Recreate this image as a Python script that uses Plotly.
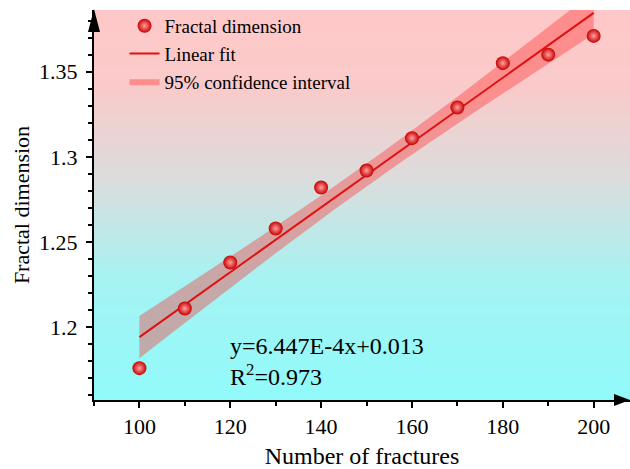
import numpy as np
import plotly.graph_objects as go

# ---------------- data ----------------
x_fractures = [100, 110, 120, 130, 140, 150, 160, 170, 180, 190, 200]
fractal_dim = [1.176, 1.211, 1.238, 1.258, 1.282, 1.292, 1.311, 1.329, 1.355, 1.360, 1.371]
x_ticks = [100, 120, 140, 160, 180, 200]
y_ticks = [1.2, 1.25, 1.3, 1.35]
y_tick_labels = ["1.2", "1.25", "1.3", "1.35"]
equation_text = "y=6.447E-4x+0.013"
r2_text = "R<sup>2</sup>=0.973"

# ---------------- linear fit + 95% CI ----------------
xa = np.array(x_fractures, dtype=float)
ya = np.array(fractal_dim, dtype=float)
slope, intercept = np.polyfit(xa, ya, 1)
n = len(xa)
resid = ya - (slope * xa + intercept)
s = np.sqrt(np.sum(resid ** 2) / (n - 2))
t_crit = 2.262  # t(0.975, df=9)
xs = np.linspace(xa.min(), xa.max(), 101)
yfit = slope * xs + intercept
se = s * np.sqrt(1.0 / n + (xs - xa.mean()) ** 2 / np.sum((xa - xa.mean()) ** 2))
upper = yfit + t_crit * se
lower = yfit - t_crit * se

FONT = "Liberation Serif"

fig = go.Figure()

# confidence band
fig.add_trace(go.Scatter(
    x=list(xs) + list(xs[::-1]), y=list(upper) + list(lower[::-1]),
    fill="toself", fillcolor="rgba(255,45,45,0.38)", line=dict(width=0),
    mode="lines", name="95% confidence interval", legendrank=3, hoverinfo="skip"))

# fit line
fig.add_trace(go.Scatter(
    x=xs, y=yfit, mode="lines", line=dict(color="#e01010", width=2),
    name="Linear fit", legendrank=2))

# data points
fig.add_trace(go.Scatter(
    x=x_fractures, y=fractal_dim, mode="markers",
    marker=dict(size=14, color="#c80000",
                gradient=dict(type="radial", color="#ffa0a0"),
                line=dict(width=0)),
    name="Fractal dimension", legendrank=1))

# background gradient strips (decoration, paper coords)
stops = [(0.0, (145, 250, 250)), (0.30, (165, 243, 243)), (0.57, (220, 220, 220)),
         (0.80, (250, 202, 202)), (1.0, (255, 200, 200))]


def col_at(f):
    for (f0, c0), (f1, c1) in zip(stops[:-1], stops[1:]):
        if f0 <= f <= f1:
            t = (f - f0) / (f1 - f0)
            return "rgb(%d,%d,%d)" % tuple(round(a + (b - a) * t) for a, b in zip(c0, c1))
    return "rgb(%d,%d,%d)" % stops[-1][1]


N = 160
shapes = []
for i in range(N):
    y0 = i / N
    y1 = min(1.0, (i + 1) / N + 0.003)
    shapes.append(dict(type="rect", xref="paper", yref="paper", x0=0, x1=1, y0=y0, y1=y1,
                       fillcolor=col_at((i + 0.5) / N), line=dict(width=0), layer="below"))

# axis arrows
shapes.append(dict(type="path", xref="paper", yref="paper", xsizemode="pixel", ysizemode="pixel",
                   xanchor=0, yanchor=1, path="M -6,-22 L 6,-22 L 0,1 Z",
                   fillcolor="black", line=dict(width=0)))
shapes.append(dict(type="path", xref="paper", yref="paper", xsizemode="pixel", ysizemode="pixel",
                   xanchor=1, yanchor=0, path="M -16,6 L -16,-6 L 0,0 Z",
                   fillcolor="black", line=dict(width=0)))

fig.update_layout(
    width=630, height=469,
    margin=dict(l=94, r=0, t=10, b=69),
    paper_bgcolor="white", plot_bgcolor="white",
    font=dict(family=FONT, color="black"),
    shapes=shapes,
    showlegend=True,
    legend=dict(x=0.057, y=1.008, xanchor="left", yanchor="top", bgcolor="rgba(0,0,0,0)",
                font=dict(size=19, family=FONT), tracegroupgap=0, itemsizing="trace"),
    annotations=[dict(xref="paper", yref="paper", x=0.25, y=0.099, xanchor="left", yanchor="middle",
                      text=equation_text + "<br>" + r2_text, showarrow=False, align="left",
                      font=dict(size=24, family=FONT, color="black"))],
)

fig.update_xaxes(
    range=[90, 208], tickvals=x_ticks, showgrid=False, zeroline=False,
    showline=True, linecolor="black", linewidth=2,
    ticks="outside", ticklen=6, tickwidth=1.5, tickcolor="black",
    minor=dict(dtick=10, tick0=100, ticks="outside", ticklen=4, tickwidth=1.5, tickcolor="black"),
    tickfont=dict(size=22, family=FONT),
    title=dict(text="Number of fractures", font=dict(size=24, family=FONT), standoff=12),
)
fig.update_yaxes(
    range=[1.1573, 1.3862], tickvals=y_ticks, ticktext=y_tick_labels, showgrid=False, zeroline=False,
    showline=True, linecolor="black", linewidth=2,
    ticks="outside", ticklen=6, tickwidth=1.5, tickcolor="black",
    minor=dict(dtick=0.01, tick0=1.2, ticks="outside", ticklen=4, tickwidth=1.5, tickcolor="black"),
    tickfont=dict(size=22, family=FONT), ticklabelstandoff=4,
    title=dict(text="Fractal dimension", font=dict(size=22, family=FONT), standoff=3),
)

fig.write_html("out.html", config={"displayModeBar": False},
               post_script="document.body.style.margin='0';")
